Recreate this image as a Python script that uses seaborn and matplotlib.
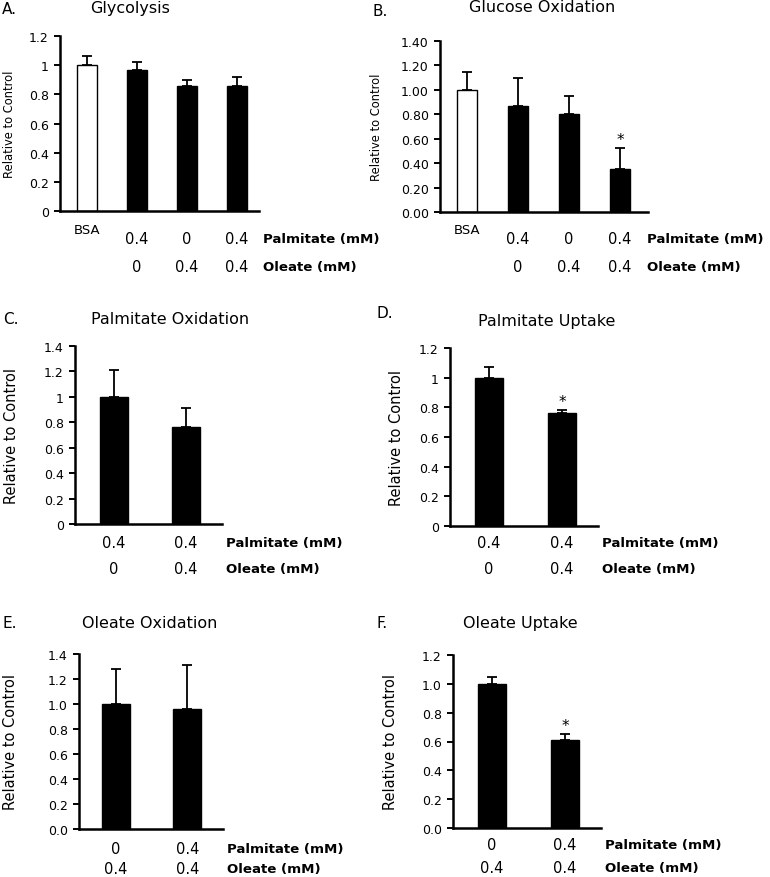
import matplotlib
matplotlib.use("Agg")
import matplotlib.pyplot as plt
import seaborn as sns
import numpy as np
import pandas as pd

sns.set_theme(style="white")
plt.rcParams['font.family'] = ['DejaVu Sans']
plt.rcParams['text.color'] = 'black'
plt.rcParams['axes.labelcolor'] = 'black'
plt.rcParams['xtick.color'] = 'black'
plt.rcParams['ytick.color'] = 'black'

# ---------------- data ----------------
# A. Glycolysis
glyc_cats = ["BSA", "P", "O", "PO"]
glyc_vals = [1.00, 0.965, 0.855, 0.86]
glyc_err = [0.06, 0.055, 0.04, 0.06]
glyc_palm = ["", "0.4", "0", "0.4"]
glyc_ole = ["", "0", "0.4", "0.4"]
glyc_ticks = [0, 0.2, 0.4, 0.6, 0.8, 1.0, 1.2]
glyc_ticklabels = ["0", "0.2", "0.4", "0.6", "0.8", "1", "1.2"]

# B. Glucose Oxidation
gox_cats = ["BSA", "P", "O", "PO"]
gox_vals = [1.00, 0.865, 0.80, 0.355]
gox_err = [0.15, 0.235, 0.15, 0.165]
gox_palm = ["", "0.4", "0", "0.4"]
gox_ole = ["", "0", "0.4", "0.4"]
gox_ticks = [0, 0.2, 0.4, 0.6, 0.8, 1.0, 1.2, 1.4]
gox_ticklabels = ["0.00", "0.20", "0.40", "0.60", "0.80", "1.00", "1.20", "1.40"]
gox_sig = [False, False, False, True]

# C. Palmitate Oxidation
pox_cats = ["P", "PO"]
pox_vals = [1.00, 0.76]
pox_err = [0.21, 0.15]
pox_palm = ["0.4", "0.4"]
pox_ole = ["0", "0.4"]
pox_ticks = [0, 0.2, 0.4, 0.6, 0.8, 1.0, 1.2, 1.4]
pox_ticklabels = ["0", "0.2", "0.4", "0.6", "0.8", "1", "1.2", "1.4"]

# D. Palmitate Uptake
pup_cats = ["P", "PO"]
pup_vals = [1.00, 0.765]
pup_err = [0.075, 0.015]
pup_palm = ["0.4", "0.4"]
pup_ole = ["0", "0.4"]
pup_ticks = [0, 0.2, 0.4, 0.6, 0.8, 1.0, 1.2]
pup_ticklabels = ["0", "0.2", "0.4", "0.6", "0.8", "1", "1.2"]
pup_sig = [False, True]

# E. Oleate Oxidation
oox_cats = ["O", "PO"]
oox_vals = [1.00, 0.96]
oox_err = [0.28, 0.35]
oox_palm = ["0", "0.4"]
oox_ole = ["0.4", "0.4"]
oox_ticks = [0, 0.2, 0.4, 0.6, 0.8, 1.0, 1.2, 1.4]
oox_ticklabels = ["0.0", "0.2", "0.4", "0.6", "0.8", "1.0", "1.2", "1.4"]

# F. Oleate Uptake
oup_cats = ["O", "PO"]
oup_vals = [1.00, 0.61]
oup_err = [0.045, 0.045]
oup_palm = ["0", "0.4"]
oup_ole = ["0.4", "0.4"]
oup_ticks = [0, 0.2, 0.4, 0.6, 0.8, 1.0, 1.2]
oup_ticklabels = ["0.0", "0.2", "0.4", "0.6", "0.8", "1.0", "1.2"]
oup_sig = [False, True]

# ---------------- layout ----------------
W, H = 770, 878
fig = plt.figure(figsize=(W / 100, H / 100), dpi=100)


def px_axes(l, t, r, b):
    return fig.add_axes([l / W, 1 - b / H, (r - l) / W, (b - t) / H])


def ftext(x, y, s, **kw):
    fig.text(x / W, 1 - y / H, s, **kw)


def panel(box, cats, vals, err, palm, ole, ticks, ticklabels, xlim,
          title, title_xy, letter, letter_xy, ylab_fs, ylab_x,
          sig=None, bsa=False, row_off=(28, 55), bsa_off=18, barw=0.4,
          lab_dx=4):
    ax = px_axes(*box)
    df = pd.DataFrame({"cond": cats, "val": vals})
    colors = {c: ("white" if (bsa and i == 0) else "black") for i, c in enumerate(cats)}
    sns.barplot(data=df, x="cond", y="val", hue="cond", palette=colors,
                legend=False, edgecolor="black", linewidth=1.0, width=barw,
                saturation=1, ax=ax, errorbar=None)
    xs = np.arange(len(cats))
    ax.errorbar(xs, vals, yerr=[np.zeros(len(err)), err], fmt="none",
                ecolor="black", elinewidth=1.3, capsize=3.5, capthick=1.3, zorder=5)
    if sig is not None:
        for i, s in enumerate(sig):
            if s:
                ax.annotate("*", xy=(xs[i], vals[i] + err[i]), xytext=(0, 1),
                            textcoords="offset pixels", ha="center", va="bottom",
                            fontsize=11)
    ax.set_xlim(*xlim)
    ax.set_ylim(ticks[0], ticks[-1])
    ax.set_yticks(ticks)
    ax.set_yticklabels(ticklabels, fontsize=9)
    ax.set_xticks([])
    ax.set_xlabel("")
    ax.set_ylabel("Relative to Control", fontsize=ylab_fs)
    ax.yaxis.label.set_verticalalignment("center")
    ax.yaxis.set_label_coords((ylab_x - box[0]) / (box[2] - box[0]), 0.5)
    for s in ["top", "right"]:
        ax.spines[s].set_visible(False)
    for s in ["left", "bottom"]:
        ax.spines[s].set_linewidth(1.8)
        ax.spines[s].set_color("black")
    ax.tick_params(axis="y", direction="out", length=4, width=1.4, pad=4,
                   left=True, colors="black")
    ax.set_facecolor("white")
    # row labels
    for i in xs:
        if bsa and i == 0:
            ax.annotate("BSA", xy=(i, 0), xycoords=("data", "axes fraction"),
                        xytext=(0, -bsa_off), textcoords="offset pixels",
                        ha="center", va="center", fontsize=9.5)
            continue
        ax.annotate(palm[i], xy=(i, 0), xycoords=("data", "axes fraction"),
                    xytext=(0, -row_off[0]), textcoords="offset pixels",
                    ha="center", va="center", fontsize=10.5)
        ax.annotate(ole[i], xy=(i, 0), xycoords=("data", "axes fraction"),
                    xytext=(0, -row_off[1]), textcoords="offset pixels",
                    ha="center", va="center", fontsize=10.5)
    ax.annotate("Palmitate (mM)", xy=(1, 0), xycoords="axes fraction",
                xytext=(lab_dx, -row_off[0]), textcoords="offset pixels",
                ha="left", va="center", fontsize=9.6, fontweight="bold")
    ax.annotate("Oleate (mM)", xy=(1, 0), xycoords="axes fraction",
                xytext=(lab_dx, -row_off[1]), textcoords="offset pixels",
                ha="left", va="center", fontsize=9.6, fontweight="bold")
    ftext(*title_xy, title, ha="center", va="center", fontsize=11.5)
    ftext(*letter_xy, letter, ha="left", va="center", fontsize=11)
    return ax


panel((60, 37, 259, 212), glyc_cats, glyc_vals, glyc_err, glyc_palm, glyc_ole,
      glyc_ticks, glyc_ticklabels, (-0.55, 3.45), "Glycolysis", (130, 9),
      "A.", (2, 10), 8.3, 9, bsa=True, row_off=(28, 55), bsa_off=18)

panel((440, 42, 648, 213), gox_cats, gox_vals, gox_err, gox_palm, gox_ole,
      gox_ticks, gox_ticklabels, (-0.53, 3.55), "Glucose Oxidation", (542, 7),
      "B.", (372, 12), 8.3, 376, sig=gox_sig, bsa=True, row_off=(27, 54), bsa_off=17,
      lab_dx=-1)

panel((75, 347, 222, 525), pox_cats, pox_vals, pox_err, pox_palm, pox_ole,
      pox_ticks, pox_ticklabels, (-0.54, 1.5), "Palmitate Oxidation", (170, 320),
      "C.", (3, 320), 10.5, 12, row_off=(19, 45), barw=0.39)

panel((450, 349, 598, 527), pup_cats, pup_vals, pup_err, pup_palm, pup_ole,
      pup_ticks, pup_ticklabels, (-0.53, 1.49), "Palmitate Uptake", (547, 322),
      "D.", (377, 313), 10.5, 396, sig=pup_sig, row_off=(17, 43), barw=0.39)

panel((79, 655, 223, 830), oox_cats, oox_vals, oox_err, oox_palm, oox_ole,
      oox_ticks, oox_ticklabels, (-0.52, 1.5), "Oleate Oxidation", (150, 624),
      "E.", (3, 623), 10.5, 11, row_off=(19, 40), barw=0.39)

panel((453, 656, 601, 829), oup_cats, oup_vals, oup_err, oup_palm, oup_ole,
      oup_ticks, oup_ticklabels, (-0.53, 1.49), "Oleate Uptake", (520, 624),
      "F.", (377, 623), 10.5, 391, sig=oup_sig, row_off=(17, 40), barw=0.39)

fig.savefig("out.png", dpi=100, facecolor="white")
